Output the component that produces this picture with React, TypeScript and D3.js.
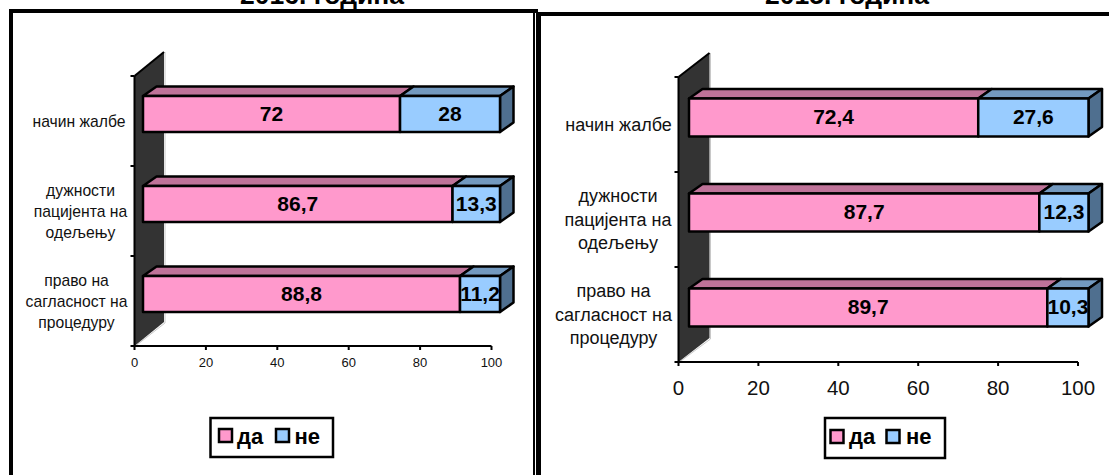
import React from "react";
import * as d3 from "d3";

const categories: string[][] = [
  ["начин жалбе"],
  ["дужности", "пацијента на", "одељењу"],
  ["право на", "сагласност на", "процедуру"],
];
const seriesNames = ["да", "не"];
const da2016 = [72, 86.7, 88.8];
const ne2016 = [28, 13.3, 11.2];
const da2015 = [72.4, 87.7, 89.7];
const ne2015 = [27.6, 12.3, 10.3];
const xTicks = [0, 20, 40, 60, 80, 100];

const FONT = "'Liberation Sans', Arial, sans-serif";
const PINK = { front: "#FF99CC", top: "#BF7399" };
const BLUE = { front: "#99CCFF", top: "#7399BF", side: "#4F6F8F" };
const fmt = (v: number) => String(v).replace(".", ",");

type Cfg = {
  title: string; titleX: number;
  da: number[]; ne: number[];
  x0: number; x1: number; top: number; base: number;
  wallDx: number; wallDy: number; barDx: number; barOff: number; barH: number;
  depthX: number; depthY: number;
  tickFont: number; tickY: number; catFont: number; catLine: number; catCenters: number[];
  valFont: number;
  legend: { x0: number; x1: number; y0: number; y1: number; sw: number[]; txt: number[]; swY: number; swS: number; base: number; font: number };
};

function Panel({ c }: { c: Cfg }) {
  const x = d3.scaleLinear().domain([0, 100]).range([c.x0, c.x1]);
  const y = d3.scaleBand<number>().domain(d3.range(categories.length)).range([c.top, c.base]).padding(0);
  const poly = (pts: [number, number][]) => pts.map(p => p.join(",")).join(" ");
  const wall: [number, number][] = [
    [c.x0, c.top], [c.x0 + c.wallDx, c.top - c.wallDy],
    [c.x0 + c.wallDx, c.base - c.wallDy], [c.x0, c.base],
  ];
  const bandEdges = [...y.domain().map(i => y(i)!), c.base];
  const sw = 2;
  const barSw = 2.5;
  return (
    <g fontFamily={FONT} fill="#000">
      <text x={c.titleX} y={4} textAnchor="middle" fontWeight="bold" fontSize={26.5}>{c.title}</text>
      {/* walls */}
      <polyline points={poly([[c.x0 + c.wallDx + 1, c.top - c.wallDy], [c.x0 + c.wallDx + 1, c.base - c.wallDy + 1], [c.x0 + 1, c.base]])} fill="none" stroke="#C8C8C8" strokeWidth={1} />
      <polygon points={poly(wall)} fill="#333333" stroke="none" />
      <line x1={c.x0} y1={c.top} x2={c.x0 + c.wallDx} y2={c.top - c.wallDy} stroke="#000" strokeWidth={sw} />
      {/* axes */}
      <line x1={c.x0} y1={c.top} x2={c.x0} y2={c.base} stroke="#000" strokeWidth={sw} />
      <line x1={c.x0} y1={c.base} x2={c.x1} y2={c.base} stroke="#000" strokeWidth={sw} />
      {bandEdges.map((v, i) => <line key={i} x1={c.x0 - 4} x2={c.x0} y1={v} y2={v} stroke="#000" strokeWidth={sw} />)}
      {xTicks.map(t => (
        <g key={t}>
          <line x1={x(t)} x2={x(t)} y1={c.base} y2={c.base + 4} stroke="#000" strokeWidth={sw} />
          <text x={x(t)} y={c.tickY} textAnchor="middle" dominantBaseline="central" fontSize={c.tickFont} fill="#111">{t}</text>
        </g>
      ))}
      {/* category labels */}
      {categories.map((lines, i) => {
        const cy = y(i)! + y.bandwidth() / 2;
        return lines.map((l, j) => (
          <text key={j} x={c.catCenters[i]} y={cy + (j - (lines.length - 1) / 2) * c.catLine} textAnchor="middle" dominantBaseline="central" fontSize={c.catFont} fill="#111">{l}</text>
        ));
      })}
      {/* bars */}
      {categories.map((_, i) => {
        const yTop = y(i)! + y.bandwidth() / 2 - c.barOff - c.barH / 2;
        const yBot = yTop + c.barH;
        const xa = x(0) + c.barDx;
        const xb = x(c.da[i]) + c.barDx;
        const xe = x(c.da[i] + c.ne[i]) + c.barDx;
        const dx = c.depthX, dy = c.depthY;
        return (
          <g key={i} stroke="#000" strokeWidth={barSw} strokeLinejoin="round">
            <polygon points={poly([[xa, yTop], [xa + dx, yTop - dy], [xb + dx, yTop - dy], [xb, yTop]])} fill={PINK.top} />
            <polygon points={poly([[xb, yTop], [xb + dx, yTop - dy], [xe + dx, yTop - dy], [xe, yTop]])} fill={BLUE.top} />
            <polygon points={poly([[xe, yTop], [xe + dx, yTop - dy], [xe + dx, yBot - dy], [xe, yBot]])} fill={BLUE.side} />
            <rect x={xa} y={yTop} width={xb - xa} height={c.barH} fill={PINK.front} />
            <rect x={xb} y={yTop} width={xe - xb} height={c.barH} fill={BLUE.front} />
            <text x={(xa + xb) / 2} y={(yTop + yBot) / 2 - 1} textAnchor="middle" dominantBaseline="central" fontSize={c.valFont} fontWeight="bold" stroke="none" fill="#000">{fmt(c.da[i])}</text>
            <text x={(xb + xe) / 2} y={(yTop + yBot) / 2 - 1} textAnchor="middle" dominantBaseline="central" fontSize={c.valFont} fontWeight="bold" stroke="none" fill="#000">{fmt(c.ne[i])}</text>
          </g>
        );
      })}
      {/* legend */}
      <rect x={c.legend.x0} y={c.legend.y0} width={c.legend.x1 - c.legend.x0} height={c.legend.y1 - c.legend.y0} fill="#fff" stroke="#000" strokeWidth={2.5} />
      {seriesNames.map((s, i) => (
        <g key={s}>
          <rect x={c.legend.sw[i]} y={c.legend.swY} width={c.legend.swS} height={c.legend.swS} fill={i === 0 ? PINK.front : BLUE.front} stroke="#000" strokeWidth={2.5} />
          <text x={c.legend.txt[i]} y={c.legend.base} fontSize={c.legend.font} fontWeight="bold">{s}</text>
        </g>
      ))}
    </g>
  );
}

const left: Cfg = {
  title: "2016. година", titleX: 322, da: da2016, ne: ne2016,
  x0: 134.5, x1: 491.5, top: 76, base: 346, wallDx: 29.5, wallDy: 24,
  barDx: 8.5, barOff: 7, barH: 36, depthX: 13.5, depthY: 9.5,
  tickFont: 13, tickY: 362, catFont: 15.7, catLine: 21, catCenters: [79, 80.5, 76.5], valFont: 21,
  legend: { x0: 210.5, x1: 333, y0: 418, y1: 457, sw: [219, 276], txt: [237, 294.5], swY: 429, swS: 13, base: 444, font: 22 },
};
const right: Cfg = {
  title: "2015. година", titleX: 847, da: da2015, ne: ne2015,
  x0: 678.5, x1: 1078, top: 77, base: 362, wallDx: 31, wallDy: 24,
  barDx: 10.5, barOff: 7, barH: 38, depthX: 13.5, depthY: 9.5,
  tickFont: 20.5, tickY: 387, catFont: 18, catLine: 23.5, catCenters: [618.5, 618, 613.5], valFont: 21,
  legend: { x0: 825, x1: 945, y0: 418, y1: 458, sw: [830.5, 886.5], txt: [849, 906], swY: 430, swS: 13, base: 444, font: 22 },
};

export default function App() {
  return (
    <svg width={1109} height={475} style={{ position: "absolute", left: 0, top: 0, display: "block" }}>
      <rect width={1109} height={475} fill="#fff" />
      {/* frames */}
      <path d="M11,475 V11 H538" fill="none" stroke="#000" strokeWidth={4} />
      <rect x={533} y={11} width={2} height={464} fill="#000" />
      <rect x={536} y={12} width={5} height={463} fill="#000" />
      <rect x={536} y={12} width={573} height={4} fill="#000" />
      <Panel c={left} />
      <Panel c={right} />
    </svg>
  );
}
